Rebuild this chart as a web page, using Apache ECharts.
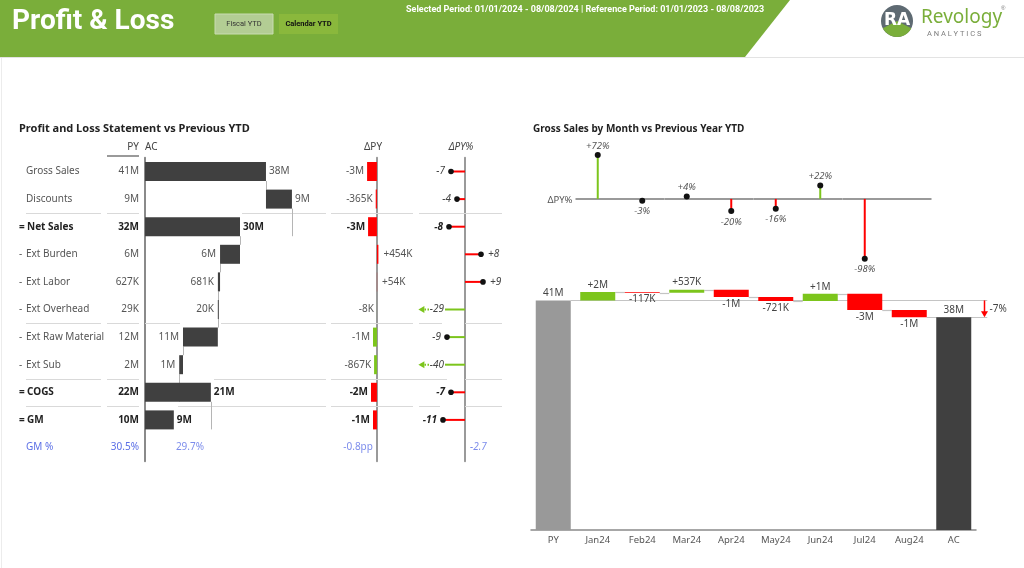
<!DOCTYPE html>
<html><head><meta charset="utf-8">
<script src="https://cdn.jsdelivr.net/npm/echarts@6/dist/echarts.min.js"></script>
<style>html,body{margin:0;padding:0;background:#fff}#c{width:1024px;height:568px}</style>
</head><body><div id="c"></div>
<script>
// ---------- DATA ----------
const rowNames   = ['Gross Sales','Discounts','Net Sales','Ext Burden','Ext Labor','Ext Overhead','Ext Raw Material','Ext Sub','COGS','GM','GM %'];
const rowPrefix  = ['', '', '=', '-', '-', '-', '-', '-', '=', '=', ''];
const rowKind    = ['total','up','total','down','down','down','down','down','total','total','pct'];
const rowBold    = [false,false,true,false,false,false,false,false,true,true,false];
const invertedRows = [false,false,false,true,true,true,true,true,false,false];
const pyLabels   = ['41M','9M','32M','6M','627K','29K','12M','2M','22M','10M','30.5%'];
const acValues   = [38.2, 8.2, 30.0, 6.3, 0.681, 0.02, 11.0, 1.2, 20.8, 9.1];
const acLabels   = ['38M','9M','30M','6M','681K','20K','11M','1M','21M','9M'];
const acGmPct    = '29.7%';
const dPyValues  = [-3.0, -0.365, -2.7, 0.454, 0.054, -0.008, -1.2, -0.867, -1.8, -1.2];
const dPyLabels  = ['-3M','-365K','-3M','+454K','+54K','-8K','-1M','-867K','-2M','-1M'];
const dPyGmPct   = '-0.8pp';
const dPyPctValues = [-7, -4, -8, 8, 9, -29, -9, -40, -7, -11];
const dPyPctLabels = ['-7','-4','-8','+8','+9','-29','-9','-40','-7','-11'];
const dPyPctGm   = '-2.7';

const months      = ['PY','Jan24','Feb24','Mar24','Apr24','May24','Jun24','Jul24','Aug24','AC'];
const pyTotal     = 41.0;
const acTotal     = 38.0;
const monthDeltas = [null, 1.5, -0.117, 0.537, -1.3, -0.721, 1.3, -2.9, -1.3, null];
const wfLabels    = ['41M','+2M','-117K','+537K','-1M','-721K','+1M','-3M','-1M','38M'];
const totalPctLabel = '-7%';
const monthPct    = [null, 72, -3, 4, -20, -16, 22, -98, null, null];
const monthPctLabels = ['', '+72%','-3%','+4%','-20%','-16%','+22%','-98%','',''];

// ---------- STYLE ----------
const FONT = '"Noto Sans","Open Sans",sans-serif';
const GREEN = '#7cc51c', RED = '#ff0000', DARK = '#404040', PYGRAY = '#999999', BLUE = '#5b6fe6';
const HEADER = '#7aae3a';

// ---------- derived ----------
const acStart = [], acEnd = [];
{ let run = 0;
  acValues.forEach((v,i)=>{
    const k = rowKind[i];
    if (k==='total'){ acStart.push(0); run = v; acEnd.push(v); }
    else if (k==='up'){ acStart.push(run); run += v; acEnd.push(run); }
    else { run -= v; acStart.push(run); acEnd.push(run); }
  });
}
const goodColor = (v,i) => ((v>0) !== invertedRows[i]) ? GREEN : RED;

const wfBase = [], wfLen = [], wfColor = [], wfLevel = [];
{ let run = pyTotal;
  months.forEach((m,i)=>{
    if (i===0){ wfBase.push(0); wfLen.push(pyTotal); wfColor.push(PYGRAY); wfLevel.push(pyTotal); }
    else if (i===months.length-1){ wfBase.push(0); wfLen.push(acTotal); wfColor.push(DARK); wfLevel.push(acTotal); }
    else { const d = monthDeltas[i];
      wfBase.push(d>0 ? run : run+d); wfLen.push(Math.abs(d)); wfColor.push(d>0?GREEN:RED);
      run += d; wfLevel.push(run); }
  });
}

const chart = echarts.init(document.getElementById('c'), null, {renderer:'canvas'});
const ROW_TOP = 157.7, ROW_H = 303.6;

const nameRich = {
  p:{width:7, color:'#555', fontSize:10, fontFamily:FONT},
  pb:{width:8, color:'#222', fontSize:10, fontWeight:'bold', fontFamily:FONT},
  n:{color:'#555', fontSize:10, fontFamily:FONT},
  b:{color:'#222', fontSize:10, fontWeight:'bold', fontFamily:FONT},
  u:{color:BLUE, fontSize:10, fontFamily:FONT}
};

const option = {
  animation:false,
  backgroundColor:'#fff',
  grid:[
    {left:145, top:ROW_TOP, width:190, height:ROW_H},   // AC
    {left:331, top:ROW_TOP, width:82,  height:ROW_H},   // dPY
    {left:419, top:ROW_TOP, width:83,  height:ROW_H},   // dPY%
    {left:531, top:144, width:445, height:122},         // month lollipop
    {left:531, top:278, width:445, height:252}          // waterfall
  ],
  xAxis:[
    {gridIndex:0, type:'value', min:0, max:60, show:false},
    {gridIndex:1, type:'value', min:-14, max:11, show:false},
    {gridIndex:2, type:'value', min:-23, max:18.5, show:false},
    {gridIndex:3, type:'category', data:months, show:false},
    {gridIndex:4, type:'category', data:months,
      axisLine:{lineStyle:{color:'#8a8a8a', width:1.5}}, axisTick:{show:false},
      axisLabel:{color:'#555', fontSize:9.5, fontFamily:FONT, margin:5}}
  ],
  yAxis:[
    {gridIndex:0, type:'category', position:'left', offset:0, data:rowNames, inverse:true,
      axisLine:{show:true, lineStyle:{color:'#8a8a8a', width:2}}, axisTick:{show:false}, splitLine:{show:false},
      axisLabel:{align:'left', margin:126, rich:nameRich,
        formatter:(v,i)=>{
          if (i===10) return '{p| }{u|'+v+'}';
          if (rowPrefix[i]==='=') return '{pb|=}{b|'+v+'}';
          if (rowPrefix[i]==='-') return '{p|-}{n|'+v+'}';
          return '{p| }{n|'+v+'}';
        }}},
    {gridIndex:0, type:'category', position:'left', offset:0, data:rowNames, inverse:true,
      axisLine:{show:false}, axisTick:{show:false}, splitLine:{show:false},
      axisLabel:{align:'right', margin:6, rich:nameRich,
        formatter:(v,i)=> i===10 ? '{u|'+pyLabels[i]+'}' : (rowBold[i] ? '{b|'+pyLabels[i]+'}' : '{n|'+pyLabels[i]+'}')}},
    {gridIndex:1, type:'category', data:rowNames, inverse:true,
      axisLine:{show:true, onZero:true, lineStyle:{color:'#9a9a9a', width:2}}, axisTick:{show:false}, axisLabel:{show:false}},
    {gridIndex:2, type:'category', data:rowNames, inverse:true,
      axisLine:{show:true, onZero:true, lineStyle:{color:'#9a9a9a', width:2}}, axisTick:{show:false}, axisLabel:{show:false}},
    {gridIndex:3, type:'value', min:-110, max:90, show:false},
    {gridIndex:4, type:'value', min:0, max:45, show:false}
  ],
  series:[
    // ---- row separators (table decoration, per category boundary)
    {type:'custom', xAxisIndex:0, yAxisIndex:0, silent:true, z:1,
      data:[[0,1,0],[0,5,1],[0,7,2],[0,8,3]],
      renderItem:(params, api)=>{
        const i = api.value(1), k = api.value(2);
        const c = api.coord([0,i]); const bh = api.size([0,1])[1];
        const y = Math.round(c[1] + bh/2) + 0.5;
        const segs = [
          [[26,101],[107,139],[242,326],[331,413],[419,502]],
          [[26,101],[107,139],[145,180],[221,326],[331,413],[419,442],[465,502]],
          [[26,101],[107,139],[214,326],[331,447],[465,502]],
          [[26,101],[107,139],[178,326],[331,413],[419,440],[465,502]]
        ][k];
        return {type:'group', children: segs.map(s=>({type:'line', shape:{x1:s[0],y1:y,x2:s[1],y2:y}, style:{stroke:'#d9d9d9', lineWidth:1}}))};
      }},
    // ---- AC connectors
    {type:'custom', xAxisIndex:0, yAxisIndex:0, silent:true, z:2,
      data: acEnd.slice(0,9).map((x,i)=>[x, i, rowKind[i+1]==='total'?1:0]),
      renderItem:(params, api)=>{
        const x = api.value(0), i = api.value(1), toBottom = api.value(2);
        const a = api.coord([x,i]), b = api.coord([x,i+1]);
        const hb = 9.5;
        const px = Math.round(a[0]) + 0.5;
        return {type:'line', shape:{x1:px, y1:a[1]+hb, x2:px, y2: toBottom ? b[1]+hb : b[1]-hb}, style:{stroke:'#b5b5b5', lineWidth:1}};
      }},
    {type:'bar', xAxisIndex:0, yAxisIndex:0, stack:'ac', barWidth:19, silent:true, z:3,
      itemStyle:{color:'transparent'}, data: acStart},
    {type:'bar', xAxisIndex:0, yAxisIndex:0, stack:'ac', barWidth:19, z:3, barMinHeight:1,
      data: acValues.map((v,i)=>({value:v, itemStyle:{color:DARK},
        label:{show:true, formatter:acLabels[i], position: rowKind[i]==='down' ? 'left':'right', distance: rowKind[i]==='down'?4:3,
          color: rowBold[i] ? '#222':'#555', fontWeight: rowBold[i]?'bold':'normal', fontSize:10, fontFamily:FONT}}))},
    {type:'scatter', xAxisIndex:0, yAxisIndex:0, symbolSize:0, silent:true,
      data:[{value:[14.2, 10], label:{show:true, position:'inside', formatter:acGmPct, color:BLUE, fontSize:10, fontFamily:FONT}}]},
    // ---- dPY bars
    {type:'bar', xAxisIndex:1, yAxisIndex:2, barWidth:19, z:3,
      data: dPyValues.map((v,i)=>({value:v, itemStyle:{color:goodColor(v,i)},
        label:{show:true, formatter:dPyLabels[i], position: v<0?'left':'right', distance: v<0?3:5,
          color: rowBold[i] ? '#222':'#555', fontWeight: rowBold[i]?'bold':'normal', fontSize:10, fontFamily:FONT}}))},
    {type:'scatter', xAxisIndex:1, yAxisIndex:2, symbolSize:0, silent:true,
      data:[{value:[0,10], label:{show:true, position:'left', distance:4, formatter:dPyGmPct, color:BLUE, fontSize:10, fontFamily:FONT}}]},
    // ---- dPY% lollipops
    {type:'custom', xAxisIndex:2, yAxisIndex:3, silent:true, z:4,
      data: dPyPctValues.map((v,i)=>[v,i]),
      renderItem:(params, api)=>{
        const v = api.value(0), i = api.value(1);
        const p0 = api.coord([0,i]);
        const col = goodColor(v,i);
        const bold = rowBold[i];
        const font = 'italic ' + (bold?'bold ':'') + '10px ' + FONT;
        const tcol = bold ? '#222' : '#444';
        const ch = [];
        if (v >= -23) {
          const p = api.coord([v,i]);
          ch.push({type:'line', shape:{x1:p0[0],y1:p0[1],x2:p[0],y2:p[1]}, style:{stroke:col, lineWidth:2}});
          ch.push({type:'circle', shape:{cx:p[0],cy:p[1],r:2.8}, style:{fill:'#111'}});
          ch.push({type:'text', style:{text:dPyPctLabels[i], x: v<0 ? p[0]-6 : p[0]+7, y:p[1], align: v<0?'right':'left', verticalAlign:'middle', font:font, fill:tcol}});
        } else {
          const pe = api.coord([-10,i]);
          const d1 = api.coord([-18,i]), d2 = api.coord([-20.6,i]), tip = api.coord([-23.3,i]);
          ch.push({type:'line', shape:{x1:p0[0],y1:p0[1],x2:pe[0],y2:pe[1]}, style:{stroke:col, lineWidth:2}});
          ch.push({type:'line', shape:{x1:d1[0],y1:d1[1],x2:d2[0],y2:d2[1]}, style:{stroke:col, lineWidth:2, lineDash:[1.5,1.5]}});
          ch.push({type:'polygon', shape:{points:[[tip[0],tip[1]],[tip[0]+6,tip[1]-3.5],[tip[0]+6,tip[1]+3.5]]}, style:{fill:col}});
          ch.push({type:'text', style:{text:dPyPctLabels[i], x: pe[0]-1, y:pe[1], align:'right', verticalAlign:'middle', font:font, fill:tcol}});
        }
        return {type:'group', children:ch};
      }},
    {type:'scatter', xAxisIndex:2, yAxisIndex:3, symbolSize:0, silent:true,
      data:[{value:[0,10], label:{show:true, position:'right', distance:5, formatter:dPyPctGm, color:BLUE, fontSize:10, fontStyle:'italic', fontFamily:FONT}}]},
    // ---- month ΔPY% lollipop
    {type:'custom', xAxisIndex:3, yAxisIndex:4, silent:true, z:4,
      data: months.map((m,i)=>[i, monthPct[i]==null?0:monthPct[i], monthPct[i]==null?0:1]),
      renderItem:(params, api)=>{
        const i = api.value(0), v = api.value(1), has = api.value(2);
        const p0 = api.coord([i,0]); const bw = api.size([1,0])[0];
        const ch = [];
        if (i===0) {
          ch.push({type:'text', style:{text:'ΔPY%', x:p0[0]+bw/2-3, y:p0[1]+1, align:'right', verticalAlign:'middle', font:'9.5px '+FONT, fill:'#555'}});
        } else if (i < months.length-1) {
          ch.push({type:'line', shape:{x1:p0[0]-bw/2, y1:p0[1], x2:p0[0]+bw/2, y2:p0[1]}, style:{stroke:'#9a9a9a', lineWidth:2}});
        }
        if (has) {
          const p = api.coord([i,v]);
          ch.push({type:'line', z2:2, shape:{x1:p0[0],y1:p0[1],x2:p[0],y2:p[1]}, style:{stroke: v>0?GREEN:RED, lineWidth:2}});
          ch.push({type:'circle', z2:3, shape:{cx:p[0],cy:p[1],r:3}, style:{fill:'#111'}});
          ch.push({type:'text', z2:3, style:{text:monthPctLabels[i], x:p[0], y: v>0 ? p[1]-9 : p[1]+11, align:'center', verticalAlign:'middle', font:'italic 9.5px '+FONT, fill:'#555'}});
        }
        return {type:'group', children:ch};
      }},
    // ---- waterfall connectors
    {type:'custom', xAxisIndex:4, yAxisIndex:5, silent:true, z:1,
      data: wfLevel.slice(0, months.length-1).map((lv,i)=>[i, lv]),
      renderItem:(params, api)=>{
        const i = api.value(0), lv = api.value(1);
        const a = api.coord([i, lv]);
        const last = months.length-1;
        const hw = 17.5;
        let x2;
        if (i===0 || i===last-1) x2 = api.coord([last, lv])[0] + hw + 16;
        else x2 = api.coord([i+1, lv])[0] - hw;
        const y = Math.round(a[1]) + 0.5;
        return {type:'line', shape:{x1:a[0]+hw, y1:y, x2:x2, y2:y}, style:{stroke:'#c4c4c4', lineWidth:1.2}};
      }},
    {type:'bar', xAxisIndex:4, yAxisIndex:5, stack:'wf', barWidth:35, silent:true, z:2,
      itemStyle:{color:'transparent'}, data: wfBase},
    {type:'bar', xAxisIndex:4, yAxisIndex:5, stack:'wf', barWidth:35, z:2,
      data: wfLen.map((v,i)=>{
        const neg = i>0 && i<months.length-1 && monthDeltas[i] < 0;
        return {value:v, itemStyle:{color:wfColor[i]},
          label:{show:true, formatter:wfLabels[i], position: neg?'bottom':'top', distance:2, color:'#444', fontSize:10, fontFamily:FONT}};
      })},
    // ---- total variance arrow
    {type:'custom', xAxisIndex:4, yAxisIndex:5, silent:true, z:3,
      data:[[months.length-1, pyTotal, acTotal]],
      renderItem:(params, api)=>{
        const i = api.value(0), a = api.coord([i, api.value(1)]), b = api.coord([i, api.value(2)]);
        const x = Math.round(a[0] + 17.5 + 13) + 0.5;
        return {type:'group', children:[
          {type:'line', shape:{x1:x,y1:a[1],x2:x,y2:b[1]-4}, style:{stroke:RED, lineWidth:1.5}},
          {type:'polygon', shape:{points:[[x-3.5,b[1]-6],[x+3.5,b[1]-6],[x,b[1]]]}, style:{fill:RED}},
          {type:'text', style:{text:totalPctLabel, x:x+5, y:(a[1]+b[1])/2, align:'left', verticalAlign:'middle', font:'10px '+FONT, fill:'#444'}}
        ]};
      }}
  ],
  graphic:[
    {type:'polygon', shape:{points:[[0,0],[790,0],[745,57],[0,57]]}, style:{fill:HEADER}, silent:true},
    {type:'line', shape:{x1:0,y1:57.5,x2:1024,y2:57.5}, style:{stroke:'#e3e3e3', lineWidth:1}},
    {type:'line', shape:{x1:1.5,y1:58,x2:1.5,y2:568}, style:{stroke:'#ececec', lineWidth:1}},
    {type:'text', style:{text:'Profit & Loss', x:12, y:22, verticalAlign:'middle', font:'bold 28px Roboto, "Noto Sans", sans-serif', fill:'#fff'}},
    {type:'rect', shape:{x:215,y:14,width:58,height:20}, style:{fill:'#b3cd94', stroke:'#c9dcb2', lineWidth:1}},
    {type:'text', style:{text:'Fiscal YTD', x:244, y:24, align:'center', verticalAlign:'middle', font:'7.5px Roboto, sans-serif', fill:'#333'}},
    {type:'rect', shape:{x:279,y:14,width:59,height:20}, style:{fill:'#8ab83c'}},
    {type:'text', style:{text:'Calendar YTD', x:308.5, y:24, align:'center', verticalAlign:'middle', font:'bold 7.5px Roboto, sans-serif', fill:'#111'}},
    {type:'text', style:{text:'Selected Period: 01/01/2024 - 08/08/2024 | Reference Period: 01/01/2023 - 08/08/2023', x:406, y:10, verticalAlign:'middle', font:'bold 9px Roboto, sans-serif', fill:'#fff'}},
    // logo
    {type:'circle', shape:{cx:897,cy:21,r:16}, style:{fill:'#5e6a72'}},
    {type:'sector', shape:{cx:897,cy:21,r:16,r0:0,startAngle:Math.PI*0.15,endAngle:Math.PI*0.85}, style:{fill:HEADER}},
    {type:'text', style:{text:'RA', x:897, y:21, align:'center', verticalAlign:'middle', font:'bold 17px "DejaVu Sans", sans-serif', fill:'#fff'}},
    {type:'text', style:{text:'Revology', x:921, y:18, verticalAlign:'middle', font:'19px "Noto Sans", sans-serif', fill:HEADER}},
    {type:'text', style:{text:'®', x:1001, y:8, verticalAlign:'middle', font:'6px sans-serif', fill:'#777'}},
    {type:'text', style:{text:'A N A L Y T I C S', x:927, y:34, verticalAlign:'middle', font:'7.5px Roboto, sans-serif', fill:'#7d7d7d'}},
    // panel titles & headers
    {type:'text', style:{text:'Profit and Loss Statement vs Previous YTD', x:19, y:129, verticalAlign:'middle', font:'bold 11px '+FONT, fill:'#222'}},
    {type:'text', style:{text:'Gross Sales by Month vs Previous Year YTD', x:533, y:129, verticalAlign:'middle', font:'bold 10px '+FONT, fill:'#222'}},
    {type:'text', style:{text:'PY', x:139, y:147, align:'right', verticalAlign:'middle', font:'10px '+FONT, fill:'#444'}},
    {type:'line', shape:{x1:107,y1:156,x2:139,y2:156}, style:{stroke:'#9a9a9a', lineWidth:2}},
    {type:'text', style:{text:'AC', x:145, y:147, align:'left', verticalAlign:'middle', font:'10px '+FONT, fill:'#444'}},
    {type:'text', style:{text:'ΔPY', x:373, y:147, align:'center', verticalAlign:'middle', font:'10px '+FONT, fill:'#444'}},
    {type:'text', style:{text:'ΔPY%', x:461, y:147, align:'center', verticalAlign:'middle', font:'italic 10px '+FONT, fill:'#444'}}
  ]
};
chart.setOption(option);
</script></body></html>
